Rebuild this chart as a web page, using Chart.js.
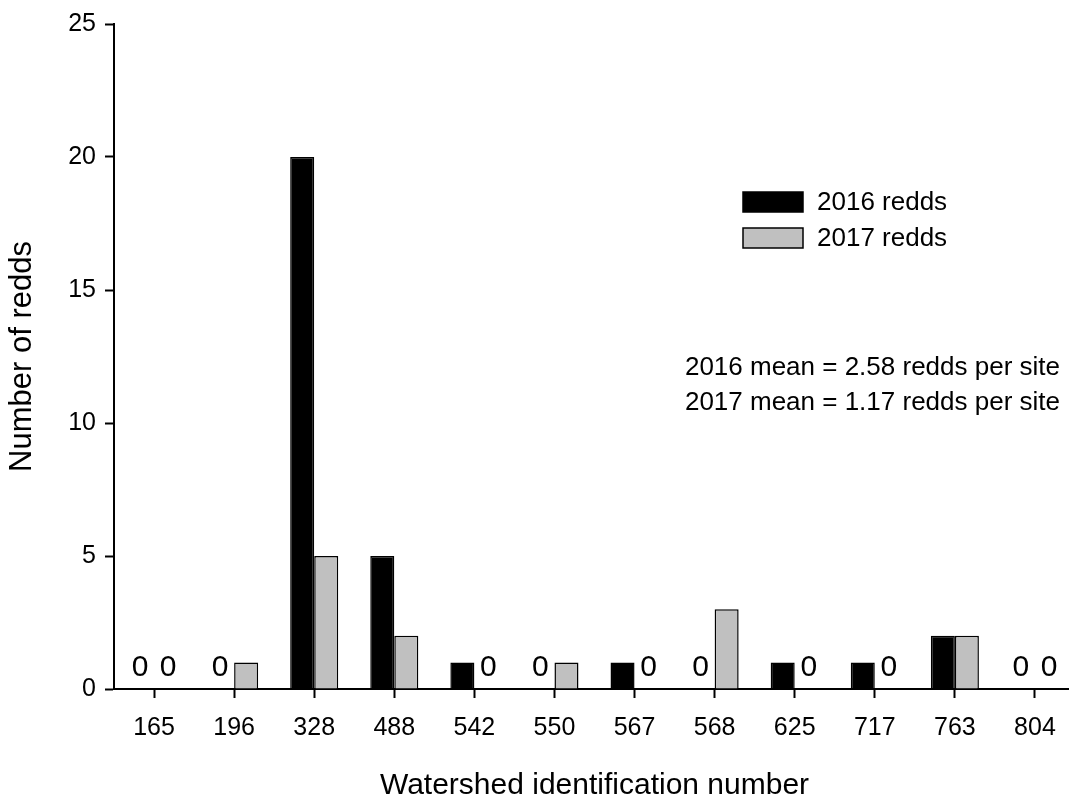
<!DOCTYPE html>
<html>
<head>
<meta charset="utf-8">
<script src="https://cdn.jsdelivr.net/npm/chart.js@4/dist/chart.umd.min.js"></script>
<style>
  html,body{margin:0;padding:0;background:#fff;overflow:hidden;}
  #wrap{width:1075px;height:804px;}
</style>
</head>
<body>
<div id="wrap"><canvas id="chart" width="1075" height="804"></canvas></div>
<script>
// data
const watersheds = ["165","196","328","488","542","550","567","568","625","717","763","804"];
const redds2016 = [0,0,20,5,1,0,1,0,1,1,2,0];
const redds2017 = [0,1,5,2,0,1,0,3,0,0,2,0];
const seriesNames = ["2016 redds","2017 redds"];
const meanLines = ["2016 mean = 2.58 redds per site","2017 mean = 1.17 redds per site"];
const yTicks = [0,5,10,15,20,25];

const FONT = "'Liberation Sans', Arial, sans-serif";
Chart.defaults.font.family = FONT;
Chart.defaults.color = "#000";

// zero labels + legend + means text
const extras = {
  id:"extras",
  afterDatasetsDraw(chart){
    const ctx = chart.ctx;
    const y = chart.scales.y;
    ctx.save();
    ctx.fillStyle="#000";
    ctx.font = "30px "+FONT;
    ctx.textAlign="center";
    ctx.textBaseline="alphabetic";
    chart.data.datasets.forEach((ds,i)=>{
      const meta = chart.getDatasetMeta(i);
      const nudge = i===0 ? -2 : 2;
      ds.data.forEach((v,j)=>{
        if(v===0){
          ctx.fillText("0", meta.data[j].x+nudge, y.getPixelForValue(0)-13);
        }
      });
    });

    // legend
    ctx.font = "26px "+FONT;
    ctx.textAlign="left";
    ctx.textBaseline="middle";
    chart.data.datasets.forEach((ds,i)=>{
      const top = 192 + i*36;
      ctx.fillStyle = ds.backgroundColor;
      ctx.fillRect(743,top,60,20);
      ctx.lineWidth=1.5;
      ctx.strokeStyle="#000";
      ctx.strokeRect(743,top,60,20);
      ctx.fillStyle="#000";
      ctx.fillText(ds.label,817,top+11);
    });

    // means
    ctx.textAlign="right";
    meanLines.forEach((t,i)=>{
      ctx.fillText(t,1060,368+i*35);
    });
    ctx.restore();
  }
};

new Chart(document.getElementById("chart"),{
  type:"bar",
  data:{
    labels:watersheds,
    datasets:[
      {label:seriesNames[0],data:redds2016,backgroundColor:"#000000",borderColor:"#000",borderWidth:1.5},
      {label:seriesNames[1],data:redds2017,backgroundColor:"#c0c0c0",borderColor:"#000",borderWidth:1.5}
    ]
  },
  options:{
    responsive:false,
    animation:false,
    layout:{padding:{top:2,right:0,bottom:0,left:0}},
    plugins:{legend:{display:false},tooltip:{enabled:false}},
    datasets:{bar:{categoryPercentage:0.6,barPercentage:1.0}},
    scales:{
      x:{
        offset:true,
        grid:{offset:false,drawOnChartArea:false,tickLength:9,tickColor:"#000",tickWidth:2},
        border:{color:"#000",width:2},
        ticks:{font:{size:25},padding:15,color:"#000",maxRotation:0},
        title:{display:true,text:"Watershed identification number",font:{size:30},padding:{top:0,bottom:0},color:"#000"},
        afterFit(s){s.height=115;}
      },
      y:{
        min:0,max:25,
        afterBuildTicks(s){s.ticks = yTicks.map(v=>({value:v}));},
        grid:{drawOnChartArea:false,tickLength:9,tickColor:"#000",tickWidth:2},
        border:{color:"#000",width:2},
        ticks:{font:{size:25},padding:9,color:"#000"},
        title:{display:true,text:"Number of redds",font:{size:31},padding:{top:4,bottom:0},color:"#000"},
        afterFit(s){s.width=114;}
      }
    }
  },
  plugins:[extras]
});
</script>
</body>
</html>
